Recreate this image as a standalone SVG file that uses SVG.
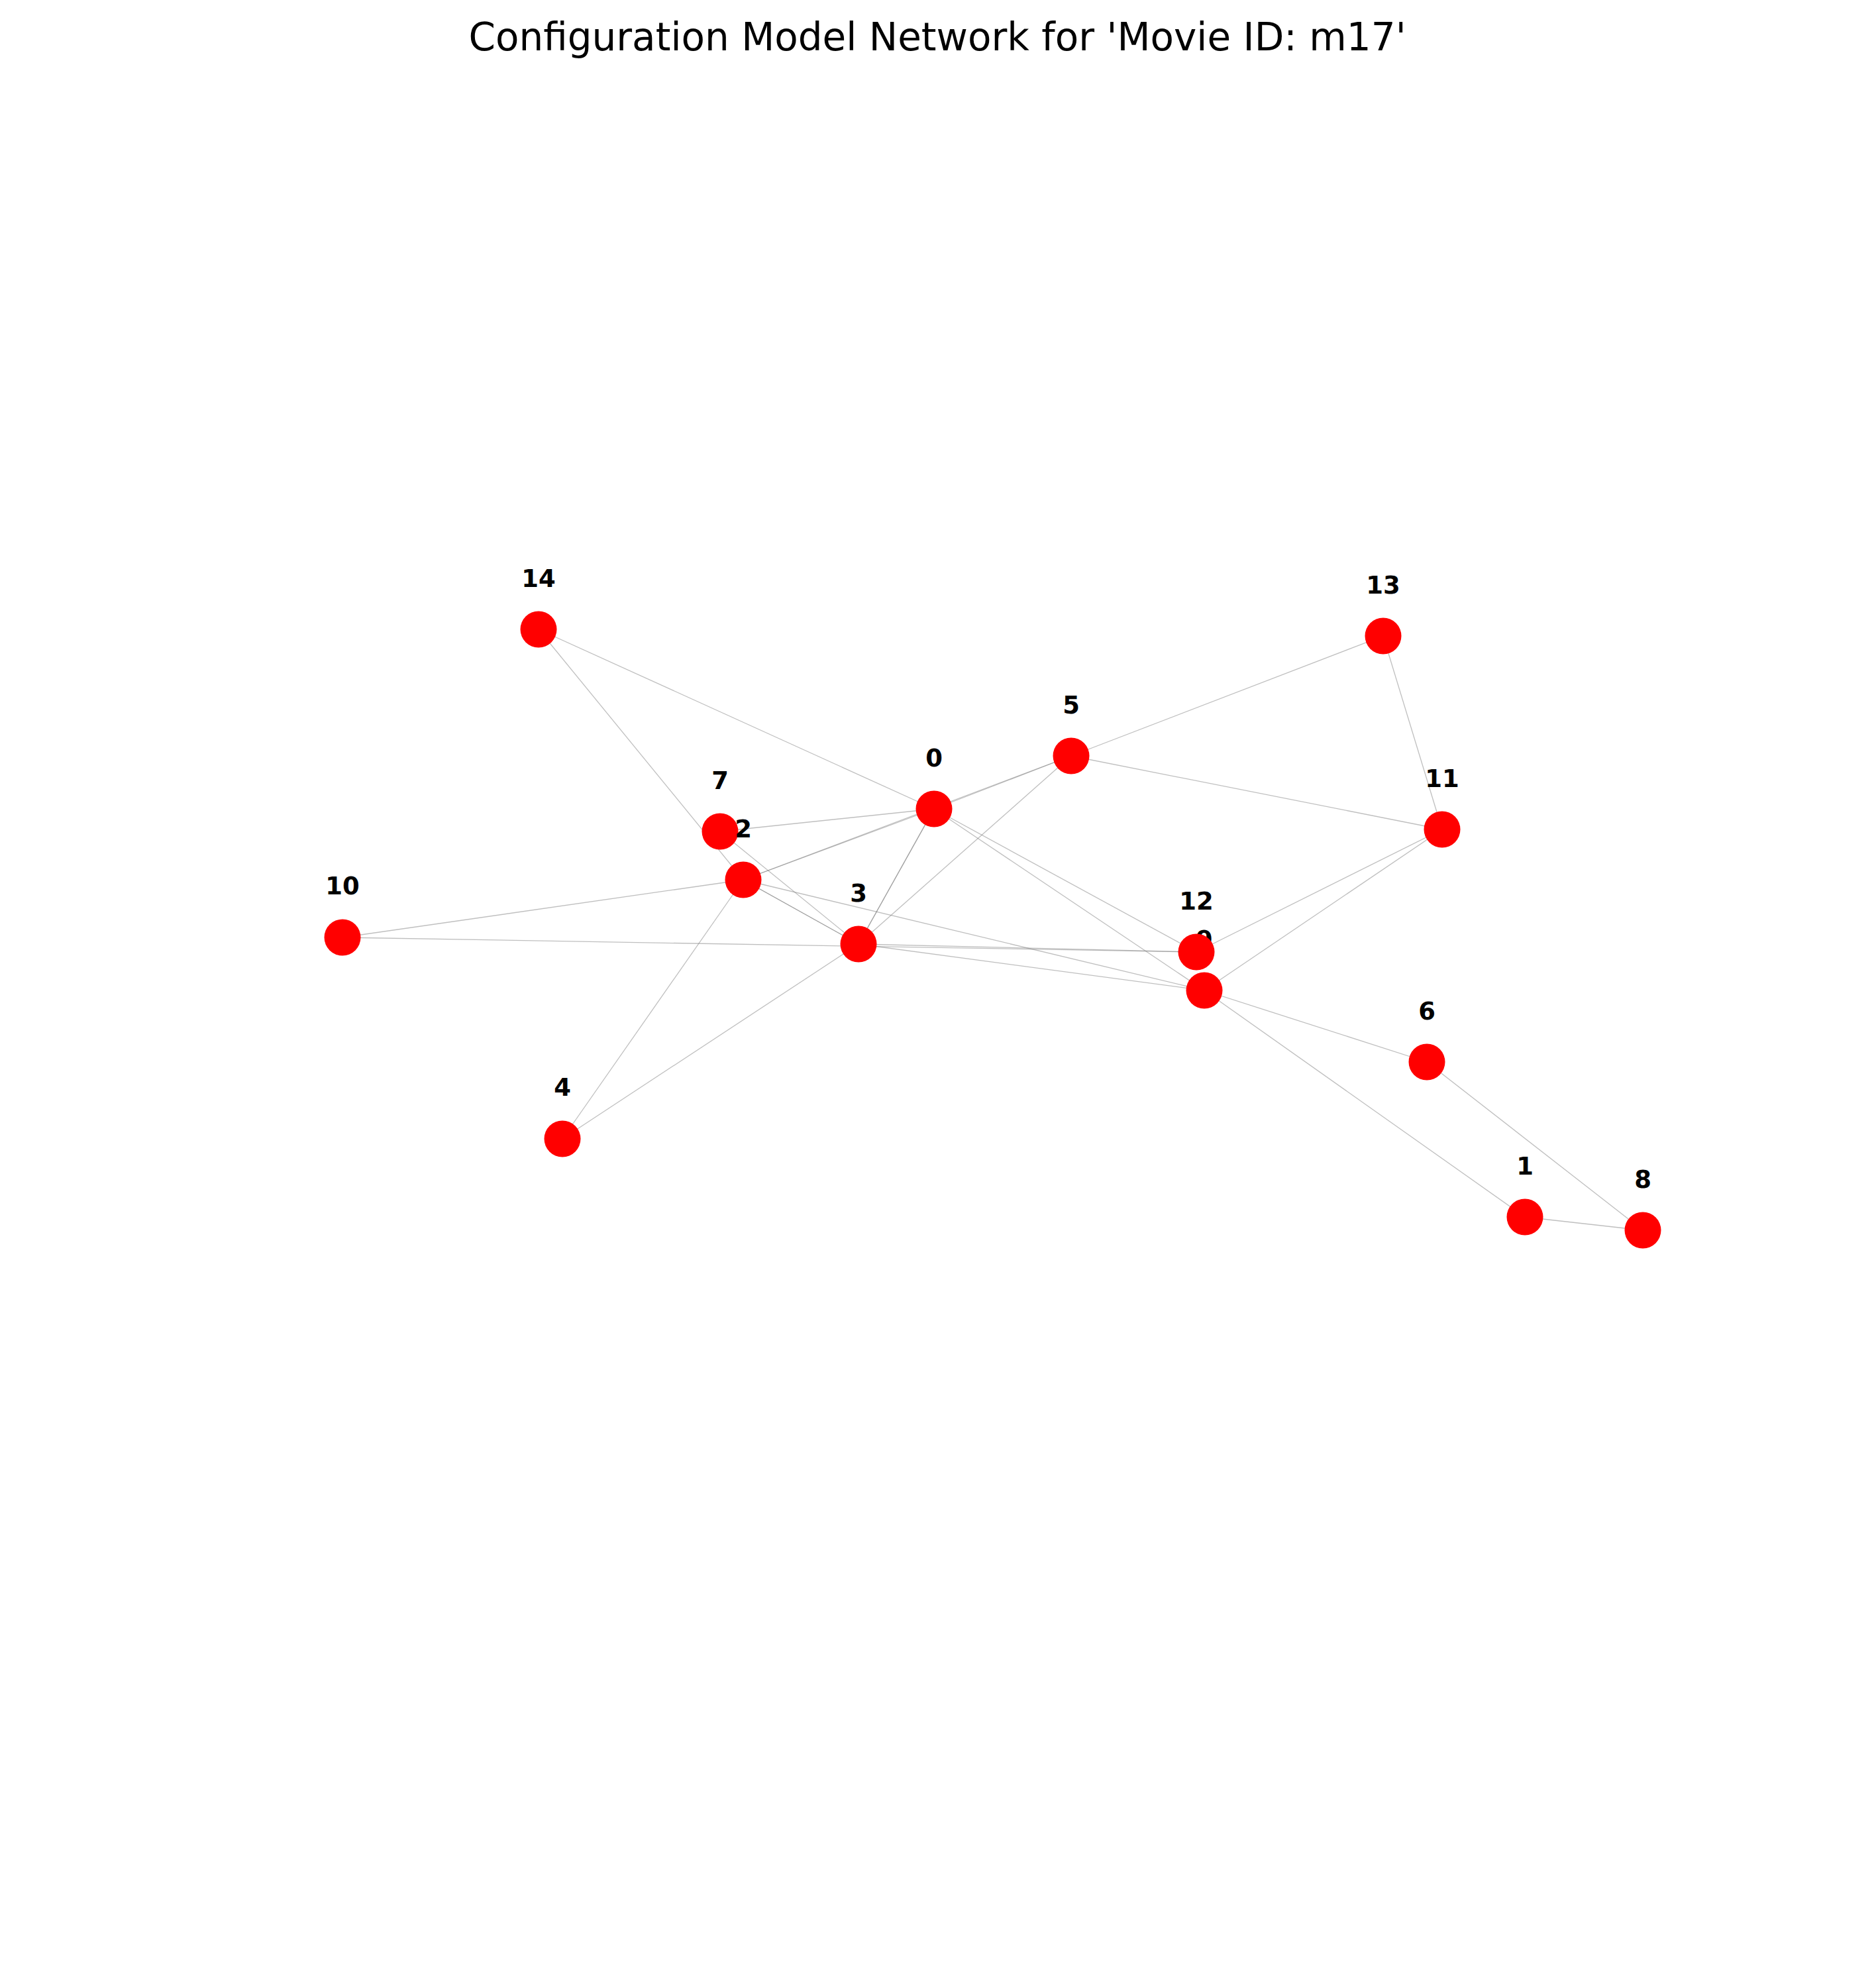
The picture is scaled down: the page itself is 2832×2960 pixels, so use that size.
<svg xmlns="http://www.w3.org/2000/svg" width="2832" height="2960" viewBox="0 0 2832 2960">
<style>
.e{stroke:#808080;stroke-opacity:0.5;stroke-width:1.3;fill:none}
.n{fill:#ff0000}
.l{font-family:"DejaVu Sans",sans-serif;font-weight:bold;font-size:37px;text-anchor:middle;fill:#000}
.t{font-family:"DejaVu Sans",sans-serif;font-size:58px;text-anchor:middle;fill:#000}
</style>
<rect width="2832" height="2960" fill="#fff"/>
<text class="t" x="1415" y="76">Configuration Model Network for 'Movie ID: m17'</text>
<g id="edges">
<line class="e" x1="813" y1="950" x2="1410" y2="1221"/>
<line class="e" x1="813" y1="950" x2="1122" y2="1328"/>
<line class="e" x1="1087" y1="1255" x2="1296" y2="1425"/>
<line class="e" x1="1087" y1="1255" x2="1410" y2="1221"/>
<line class="e" x1="1122" y1="1328" x2="1410" y2="1221"/>
<line class="e" x1="1122" y1="1328" x2="1617" y2="1141"/>
<line class="e" x1="1410" y1="1221" x2="1617" y2="1141"/>
<line class="e" x1="1410" y1="1221" x2="1296" y2="1425"/>
<line class="e" x1="1410" y1="1221" x2="1296" y2="1425"/>
<line class="e" x1="1617" y1="1141" x2="1296" y2="1425"/>
<line class="e" x1="1617" y1="1141" x2="2088" y2="960"/>
<line class="e" x1="1617" y1="1141" x2="2177" y2="1252"/>
<line class="e" x1="2088" y1="960" x2="2177" y2="1252"/>
<line class="e" x1="2177" y1="1252" x2="1806" y2="1437"/>
<line class="e" x1="2177" y1="1252" x2="1818" y2="1495"/>
<line class="e" x1="1410" y1="1221" x2="1806" y2="1437"/>
<line class="e" x1="1410" y1="1221" x2="1818" y2="1495"/>
<line class="e" x1="1122" y1="1328" x2="1818" y2="1495"/>
<line class="e" x1="1122" y1="1328" x2="1296" y2="1425"/>
<line class="e" x1="1122" y1="1328" x2="1296" y2="1425"/>
<line class="e" x1="1296" y1="1425" x2="1818" y2="1495"/>
<line class="e" x1="1296" y1="1425" x2="1806" y2="1437"/>
<line class="e" x1="517" y1="1415" x2="1806" y2="1437"/>
<line class="e" x1="517" y1="1415" x2="1122" y2="1328"/>
<line class="e" x1="1122" y1="1328" x2="849" y2="1719"/>
<line class="e" x1="1296" y1="1425" x2="849" y2="1719"/>
<line class="e" x1="1818" y1="1495" x2="2154" y2="1603"/>
<line class="e" x1="1818" y1="1495" x2="2302" y2="1837"/>
<line class="e" x1="2154" y1="1603" x2="2480" y2="1857"/>
<line class="e" x1="2302" y1="1837" x2="2480" y2="1857"/>
</g>
<g id="node-14"><circle class="n" cx="813" cy="950" r="27.5"/><text class="l" x="813" y="886">14</text></g>
<g id="node-13"><circle class="n" cx="2088" cy="960" r="27.5"/><text class="l" x="2088" y="896">13</text></g>
<g id="node-5"><circle class="n" cx="1617" cy="1141" r="27.5"/><text class="l" x="1617" y="1077">5</text></g>
<g id="node-0"><circle class="n" cx="1410" cy="1221" r="27.5"/><text class="l" x="1410" y="1157">0</text></g>
<g id="node-7"><circle class="n" cx="1087" cy="1255" r="27.5"/><text class="l" x="1087" y="1191">7</text></g>
<g id="node-2"><circle class="n" cx="1122" cy="1328" r="27.5"/><text class="l" x="1122" y="1264">2</text></g>
<g id="node-11"><circle class="n" cx="2177" cy="1252" r="27.5"/><text class="l" x="2177" y="1188">11</text></g>
<g id="node-10"><circle class="n" cx="517" cy="1415" r="27.5"/><text class="l" x="517" y="1350">10</text></g>
<g id="node-3"><circle class="n" cx="1296" cy="1425" r="27.5"/><text class="l" x="1296" y="1361">3</text></g>
<g id="node-9"><circle class="n" cx="1818" cy="1495" r="27.5"/><text class="l" x="1818" y="1431">9</text></g>
<g id="node-12"><circle class="n" cx="1806" cy="1437" r="27.5"/><text class="l" x="1806" y="1373">12</text></g>
<g id="node-6"><circle class="n" cx="2154" cy="1603" r="27.5"/><text class="l" x="2154" y="1539">6</text></g>
<g id="node-4"><circle class="n" cx="849" cy="1719" r="27.5"/><text class="l" x="849" y="1654">4</text></g>
<g id="node-1"><circle class="n" cx="2302" cy="1837" r="27.5"/><text class="l" x="2302" y="1773">1</text></g>
<g id="node-8"><circle class="n" cx="2480" cy="1857" r="27.5"/><text class="l" x="2480" y="1793">8</text></g>
</svg>
